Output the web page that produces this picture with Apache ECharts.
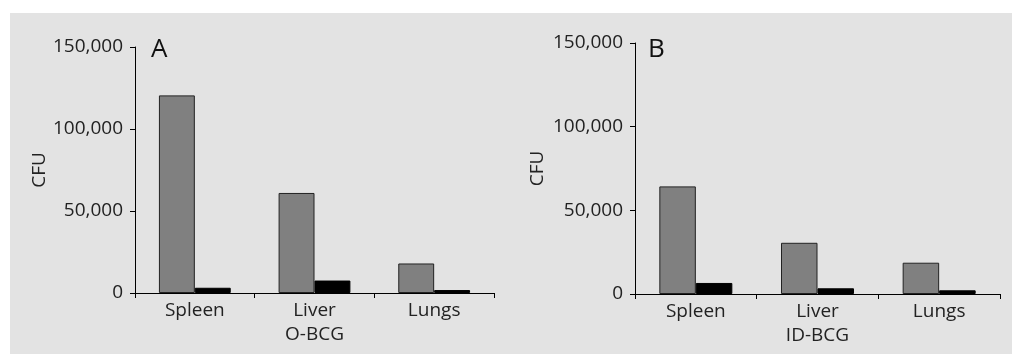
<!DOCTYPE html>
<html>
<head>
<meta charset="utf-8">
<script src="https://cdn.jsdelivr.net/npm/echarts@6/dist/echarts.min.js"></script>
<style>
html,body{margin:0;padding:0;background:#fff;}
#chart{width:1012px;height:354px;}
</style>
</head>
<body>
<div id="chart"></div>
<script>
var categoriesA = ['Spleen', 'Liver\nO-BCG', 'Lungs'];
var categoriesB = ['Spleen', 'Liver\nID-BCG', 'Lungs'];
var oBcgGray = [120500, 61000, 18000];
var oBcgBlack = [3200, 7600, 1800];
var idBcgGray = [64300, 30600, 18700];
var idBcgBlack = [6600, 3400, 2200];
var yTicks = [0, 50000, 100000, 150000];
var panelLabels = ['A', 'B'];

var FONT = 'Open Sans';
var chart = echarts.init(document.getElementById('chart'), null, {renderer: 'canvas'});

function fmt(v) { return v.toLocaleString('en-US'); }

function yAxis(gridIndex, gap) {
  return {
    type: 'value', gridIndex: gridIndex,
    min: yTicks[0], max: yTicks[yTicks.length - 1], interval: yTicks[1] - yTicks[0],
    name: 'CFU', nameLocation: 'middle', nameGap: gap, nameRotate: 90,
    nameTextStyle: {fontFamily: FONT, fontSize: 19, color: '#222'},
    axisLine: {show: true, lineStyle: {color: '#000', width: 1}},
    axisTick: {show: true, length: 5, lineStyle: {color: '#000'}},
    splitLine: {show: false},
    axisLabel: {fontFamily: FONT, fontSize: 19, color: '#222', margin: 12, formatter: fmt}
  };
}
function xAxis(gridIndex, cats) {
  return {
    type: 'category', gridIndex: gridIndex, data: cats,
    axisLine: {show: true, lineStyle: {color: '#000', width: 1}},
    axisTick: {show: true, length: 5, alignWithLabel: false, lineStyle: {color: '#000'}},
    axisLabel: {fontFamily: FONT, fontSize: 19, color: '#222', margin: 6, lineHeight: 24, interval: 0}
  };
}
function bar(idx, data, color, border) {
  return {
    type: 'bar', xAxisIndex: idx, yAxisIndex: idx, data: data,
    barWidth: '30%', barGap: '0%',
    itemStyle: {color: color, borderColor: border, borderWidth: 1},
    silent: true
  };
}

chart.setOption({
  animation: false,
  backgroundColor: '#fff',
  graphic: [
    {type: 'rect', shape: {x: 10, y: 13, width: 1002, height: 341}, style: {fill: '#e3e3e3'}, z: -10},
    {type: 'text', left: 151, top: 37, style: {text: panelLabels[0], font: '26px "Open Sans"', fill: '#111'}},
    {type: 'text', left: 648, top: 37, style: {text: panelLabels[1], font: '26px "Open Sans"', fill: '#111'}}
  ],
  grid: [
    {left: 135, top: 47, width: 359, height: 246, containLabel: false},
    {left: 635, top: 43, width: 365, height: 251, containLabel: false}
  ],
  xAxis: [xAxis(0, categoriesA), xAxis(1, categoriesB)],
  yAxis: [yAxis(0, 83), yAxis(1, 88)],
  series: [
    bar(0, oBcgGray, '#808080', '#222'),
    bar(0, oBcgBlack, '#000', '#000'),
    bar(1, idBcgGray, '#808080', '#222'),
    bar(1, idBcgBlack, '#000', '#000')
  ]
});
</script>
</body>
</html>
